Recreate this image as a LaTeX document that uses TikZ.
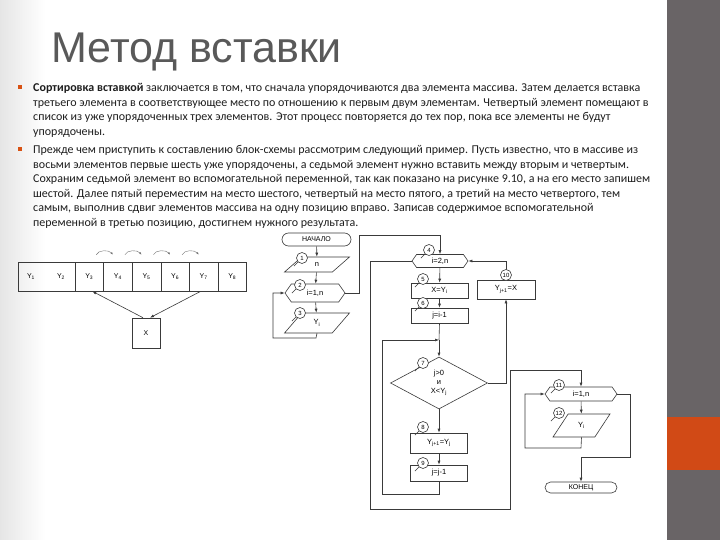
\documentclass[tikz,border=0pt]{standalone}
\usepackage{fontspec}
\setmainfont{Carlito}
\newfontfamily\titlefont{Liberation Sans}
\newfontfamily\chartfont{Liberation Sans}
\usetikzlibrary{shapes.geometric,shapes.misc,shapes.symbols,arrows.meta}
\definecolor{linec}{HTML}{3A3A3A}
\definecolor{panel}{HTML}{696466}
\definecolor{accent}{HTML}{D14A16}
\definecolor{titlec}{HTML}{595959}
\definecolor{bodyc}{HTML}{1E1E1E}
\tikzset{
  fc/.style={draw=linec, line width=0.6pt},
  arr/.style={fc, -{Latex[length=4pt,width=3pt]}},
  blk/.style={fc, rectangle, inner sep=0pt, minimum width=57pt, minimum height=15pt, font=\chartfont\fontsize{7.5}{8}\selectfont},
  hexa/.style={fc, signal, signal to=east and west, signal pointer angle=110, inner sep=0pt, font=\chartfont\fontsize{7.5}{8}\selectfont},
  para/.style={fc, trapezium, trapezium left angle=60, trapezium right angle=120, trapezium stretches=true, inner sep=0pt, font=\chartfont\fontsize{7.5}{8}\selectfont},
  term/.style={fc, rounded rectangle, inner sep=0pt, font=\chartfont\fontsize{7}{8}\selectfont},
  numc/.style={fc, circle, fill=white, inner sep=0pt, minimum size=11pt, font=\chartfont\fontsize{6}{6}\selectfont},
  tick/.style={fc, line width=0.5pt},
  cell/.style={fc, rectangle, inner sep=0pt, minimum height=29pt, font=\chartfont\fontsize{7}{8}\selectfont},
  bodyl/.style={anchor=base west, inner sep=0pt, text=bodyc, font=\fontsize{12}{13}\selectfont},
  bul/.style={fill=accent!85!orange, minimum size=4pt, inner sep=0pt, rectangle}
}
\begin{document}
\begin{tikzpicture}[x=1pt,y=-1pt]
\useasboundingbox (0,0) rectangle (720,540);
% background
\fill[white] (0,0) rectangle (720,540);
\shade[left color=black!10, right color=white] (0,0) rectangle (45,540);
\fill[panel] (667,0) rectangle (720,540);
\fill[accent] (667,417) rectangle (720,470);
% title
\node[anchor=base west, inner sep=0pt, text=titlec, font=\titlefont\fontsize{43}{46}\selectfont] (title) at (51,63) {Метод вставки};
% bullets
\node[bul] (b1) at (20,87) {};
\node[bul] (b2) at (20,149) {};
\node[bodyl] (t1) at (33,92) {\textbf{Сортировка вставкой} заключается в том, что сначала упорядочиваются два элемента массива. Затем делается вставка};
\node[bodyl] (t2) at (33,106.5) {третьего элемента в соответствующее место по отношению к первым двум элементам. Четвертый элемент помещают в};
\node[bodyl] (t3) at (33,121) {список из уже упорядоченных трех элементов. Этот процесс повторяется до тех пор, пока все элементы не будут};
\node[bodyl] (t4) at (33,135.5) {упорядочены.};
\node[bodyl] (t5) at (33,154) {Прежде чем приступить к составлению блок-схемы рассмотрим следующий пример. Пусть известно, что в массиве из};
\node[bodyl] (t6) at (33,168.4) {восьми элементов первые шесть уже упорядочены, а седьмой элемент нужно вставить между вторым и четвертым.};
\node[bodyl] (t7) at (33,182.8) {Сохраним седьмой элемент во вспомогательной переменной, так как показано на рисунке 9.10, а на его место запишем};
\node[bodyl] (t8) at (33,197.2) {шестой. Далее пятый переместим на место шестого, четвертый на место пятого, а третий на место четвертого, тем};
\node[bodyl] (t9) at (33,211.6) {самым, выполнив сдвиг элементов массива на одну позицию вправо. Записав содержимое вспомогательной};
\node[bodyl] (t10) at (33,226) {переменной в третью позицию, достигнем нужного результата.};
% array
\node[cell, minimum width=57pt] (y12) at (46.5,276.5) {};
\node[font=\chartfont\fontsize{7}{8}\selectfont] (ly1) at (31,276.5) {Y\textsubscript{1}};
\node[font=\chartfont\fontsize{7}{8}\selectfont] (ly2) at (61,276.5) {Y\textsubscript{2}};
\node[cell, minimum width=28.6pt] (y3) at (89.3,276.5) {Y\textsubscript{3}};
\node[cell, minimum width=28.6pt] (y4) at (117.9,276.5) {Y\textsubscript{4}};
\node[cell, minimum width=28.6pt] (y5) at (146.5,276.5) {Y\textsubscript{5}};
\node[cell, minimum width=28.6pt] (y6) at (175.1,276.5) {Y\textsubscript{6}};
\node[cell, minimum width=28.6pt] (y7) at (203.7,276.5) {Y\textsubscript{7}};
\node[cell, minimum width=28.6pt] (y8) at (232.3,276.5) {Y\textsubscript{8}};
\node[cell, minimum width=28pt, minimum height=30pt] (xb) at (146,333) {X};
\draw[arr] ([xshift=-3pt]xb.north) -- ([xshift=3pt]y3.south);
\draw[arr] ([xshift=-3pt]y7.south) -- ([xshift=4pt]xb.north);
% shift arcs above the array
\foreach \a/\b in {y3/y4, y4/y5, y5/y6, y6/y7}{
  \draw[draw=black!55, line width=0.4pt, -{Latex[length=2.5pt,width=2pt]}] ([xshift=7pt,yshift=7pt]\a.north) .. controls ([xshift=9pt,yshift=12pt]\a.north) and ([xshift=-9pt,yshift=12pt]\b.north) .. ([xshift=-5pt,yshift=7pt]\b.north);
}
% flowchart
\node[term, minimum width=69pt, minimum height=13pt] (start) at (316.5,239.5) {НАЧАЛО};
\node[para, minimum width=65pt, minimum height=15pt] (p1) at (317,264.5) {n};
\node[hexa, minimum width=60pt, minimum height=18pt] (h2) at (315,293) {i=1,n};
\node[para, minimum width=65pt, minimum height=20pt] (p3) at (317,323) {Y\textsubscript{i}};
\node[hexa, minimum width=56pt, minimum height=13pt] (h4) at (440,261) {i=2,n};
\node[blk] (b5) at (439.5,290.5) {X=Y\textsubscript{i}};
\node[blk] (b6) at (439.5,315.5) {j=i-1};
\node[fc, diamond, aspect=1.8, inner sep=0pt, minimum width=97pt, minimum height=52pt, align=center, font=\chartfont\fontsize{7.5}{9}\selectfont] (d7) at (439,383) {j>0\\и\\X<Y\textsubscript{j}};
\node[blk, minimum height=20pt] (b8) at (439,443) {Y\textsubscript{j+1}=Y\textsubscript{j}};
\node[blk, minimum height=16pt] (b9) at (439,473) {j=j-1};
\node[blk, minimum width=58pt, minimum height=19pt] (b10) at (506,289.5) {Y\textsubscript{j+1}=X};
\node[hexa, minimum width=72pt, minimum height=14pt] (h11) at (581,394) {i=1,n};
\node[para, minimum width=57pt, minimum height=23pt] (p12) at (581.5,425.5) {Y\textsubscript{i}};
\node[term, minimum width=72pt, minimum height=11pt] (end) at (581,487.5) {КОНЕЦ};
% path coordinates
\coordinate (l2a) at (316,338);
\coordinate (l2b) at (273,338);
\coordinate (l2c) at (273,293);
\coordinate (e2a) at (359,293);
\coordinate (e2b) at (359,235);
\coordinate (e2c) at (440,235);
\coordinate (e4a) at (370,261);
\coordinate (e4b) at (370,509);
\coordinate (e4c) at (510,509);
\coordinate (e4d) at (510,370);
\coordinate (e4e) at (581,370);
\coordinate (jn) at (439,340);
\coordinate (l7a) at (439,494);
\coordinate (l7b) at (382,494);
\coordinate (l7c) at (382,340);
\coordinate (n7a) at (506,383);
\coordinate (t10a) at (506,261);
\coordinate (l11a) at (581,448);
\coordinate (l11b) at (525,448);
\coordinate (l11c) at (525,394);
\coordinate (e11a) at (630,394);
\coordinate (e11b) at (630,457);
\coordinate (e11c) at (581,457);
% connectors
\draw[arr] (start) -- (p1);
\draw[arr] (p1) -- (h2);
\draw[arr] (h2) -- (p3);
\draw[arr] (p3.south) -- (l2a) -- (l2b) -- (l2c) -- (h2.west);
\draw[arr] (h2.east) -- (e2a) -- (e2b) -- (e2c) -- (h4.north);
\draw[arr] (h4) -- (b5);
\draw[arr] (b5) -- (b6);
\draw[fc] (b6.south) -- (jn);
\draw[arr] (jn) -- (d7.north);
\draw[arr] (d7) -- (b8);
\draw[arr] (b8) -- (b9);
\draw[arr] (b9.south) -- (l7a) -- (l7b) -- (l7c) -- (jn);
\draw[arr] (d7.east) -- (n7a) -- (b10.south);
\draw[arr] (b10.north) -- (t10a) -- (h4.east);
\draw[arr] (h4.west) -- (e4a) -- (e4b) -- (e4c) -- (e4d) -- (e4e) -- (h11.north);
\draw[arr] (h11) -- (p12);
\draw[arr] (p12.south) -- (l11a) -- (l11b) -- (l11c) -- (h11.west);
\draw[arr] (h11.east) -- (e11a) -- (e11b) -- (e11c) -- (end.north);
% number circles
\node[numc] (c1) at (302,258) {1};
\node[numc] (c2) at (300,285) {2};
\node[numc] (c3) at (300,313) {3};
\node[numc] (c4) at (429,250) {4};
\node[numc] (c5) at (423,279) {5};
\node[numc] (c6) at (423,303) {6};
\node[numc] (c7) at (423,363) {7};
\node[numc] (c8) at (423,427) {8};
\node[numc] (c9) at (423,463) {9};
\node[numc] (c10) at (506,275) {10};
\node[numc] (c11) at (559,385) {11};
\node[numc] (c12) at (559,413) {12};
\foreach \c in {c1,c2,c3,c4,c5,c6,c7,c8,c9,c11,c12}{
  \draw[tick] (\c.south west) -- ++(-4,4);
}
\end{tikzpicture}
\end{document}
